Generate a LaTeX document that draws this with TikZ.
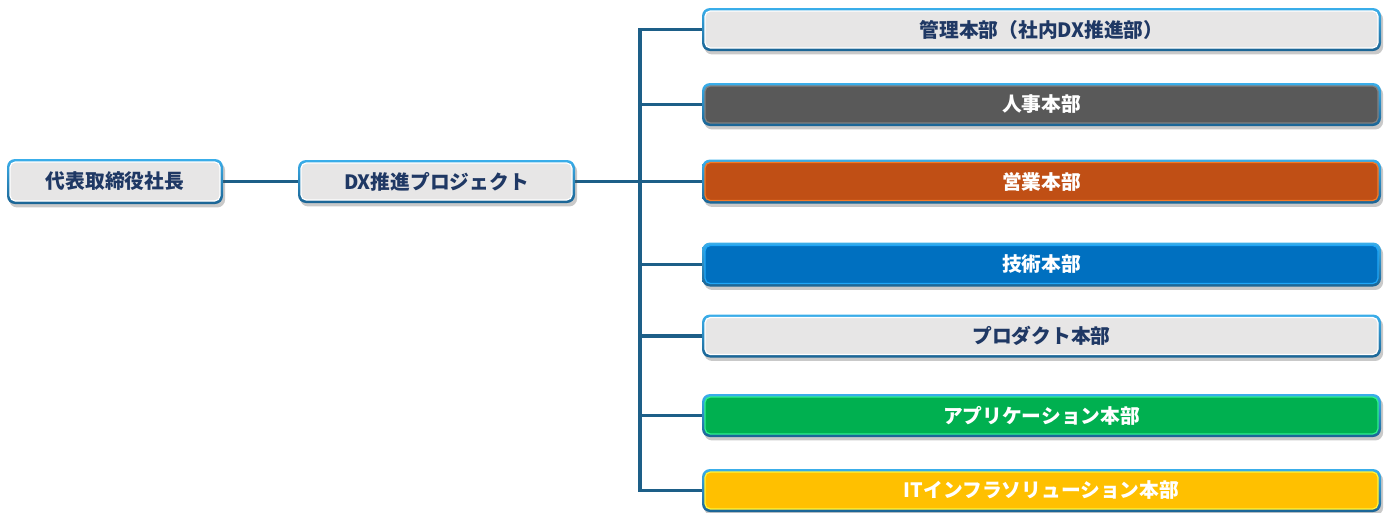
\documentclass[tikz,border=0pt]{standalone}
\usepackage{fontspec}
\setmainfont{Noto Sans CJK JP}
\usetikzlibrary{shadows}
\definecolor{navy}{HTML}{1F3864}
\definecolor{connc}{HTML}{1D5F88}
\definecolor{btop}{HTML}{3AAEEA}
\definecolor{bbot}{HTML}{1B6494}
\definecolor{lgrey}{HTML}{E7E6E6}
\definecolor{dgrey}{HTML}{595959}
\definecolor{dgreyedge}{HTML}{808080}
\definecolor{orangef}{HTML}{C04F15}
\definecolor{orangee}{HTML}{F57A26}
\definecolor{bluef}{HTML}{0070C0}
\definecolor{bluee}{HTML}{1FA6F7}
\definecolor{greenf}{HTML}{00B050}
\definecolor{greene}{HTML}{2EF08E}
\definecolor{goldf}{HTML}{FFC000}
\definecolor{golde}{HTML}{FFF53A}
\pgfdeclarelayer{bg}
\pgfsetlayers{bg,main}
\tikzset{
  conn/.style={draw=connc, line width=2.3pt, line join=miter},
  boxtext/.style={font=\fontsize{14.8}{16}\selectfont\bfseries},
  outerbox/.style={rounded corners=6pt, top color=btop, bottom color=bbot,
    drop shadow={opacity=0.3, shadow xshift=1.6pt, shadow yshift=-2.6pt, fill=black!70}},
}
\newcommand\obox[9]{%
  \shade[outerbox] ({#2-#4/2},{#3-#5/2}) rectangle ({#2+#4/2},{#3+#5/2});
  \node[rectangle, rounded corners=4pt, fill=#6, draw=#7, line width=0.9pt,
    minimum width={(#4-6)*0.75pt}, minimum height={(#5-6)*0.75pt}, inner sep=0pt,
    text=#8, boxtext] (#1) at (#2,#3) {#9};%
}
\begin{document}
\begin{tikzpicture}[x=0.75pt, y=-0.75pt]
\useasboundingbox (0,0) rectangle (1390,512);
\obox{ceo}{115}{181.5}{216}{45}{lgrey}{white}{navy}{代表取締役社長}
\obox{dx}{436.5}{181.5}{277}{43}{lgrey}{white}{navy}{DX推進プロジェクト}
\obox{d1}{1041.5}{29.5}{679}{43}{lgrey}{white}{navy}{管理本部（社内DX推進部）}
\obox{d2}{1041.5}{104.5}{679}{43}{dgrey}{dgreyedge}{white}{人事本部}
\obox{d3}{1041.5}{181.5}{679}{44}{orangef}{orangee}{white}{営業本部}
\obox{d4}{1041.5}{264.5}{679}{44}{bluef}{bluee}{white}{技術本部}
\obox{d5}{1041.5}{336}{679}{43}{lgrey}{white}{navy}{プロダクト本部}
\obox{d6}{1041.5}{415.5}{679}{43}{greenf}{greene}{white}{アプリケーション本部}
\obox{d7}{1041.5}{490.5}{679}{43}{goldf}{golde}{white}{ITインフラソリューション本部}
\coordinate (spine) at (640,181.5);
\begin{pgfonlayer}{bg}
\draw[conn] (ceo.east) -- (dx.west);
\draw[conn] (dx.east) -- (spine);
\draw[conn] (d1.west) -- (d1.west -| spine) -- (d7.west -| spine) -- (d7.west);
\draw[conn] (spine |- d2.west) -- (d2.west);
\draw[conn] (spine |- d3.west) -- (d3.west);
\draw[conn] (spine |- d4.west) -- (d4.west);
\draw[conn] (spine |- d5.west) -- (d5.west);
\draw[conn] (spine |- d6.west) -- (d6.west);
\end{pgfonlayer}
\end{tikzpicture}
\end{document}
